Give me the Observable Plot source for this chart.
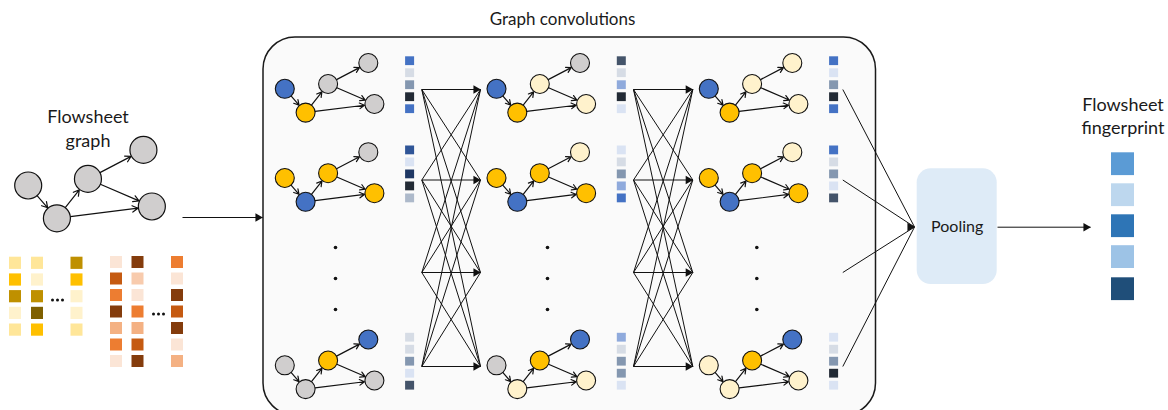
<!DOCTYPE html>
<html><head><meta charset="utf-8">
<script src="https://cdn.jsdelivr.net/npm/d3@7"></script>
<script src="https://cdn.jsdelivr.net/npm/@observablehq/plot@0.6"></script>
<style>body{margin:0;background:#fff;overflow:hidden} svg{display:block}</style>
</head><body><div id="chart"></div>
<script>
// ================= DATA =================
const nodeNames = ["n1", "n2", "n3", "n4", "n5"];
const edgeSources = [0, 1, 2, 2, 1];
const edgeTargets = [1, 2, 3, 4, 4];
const nodePalette = {B: "#4472C4", Y: "#FFC000", G: "#D0CECE", C: "#FFF2CC"};
const inputGraphColors = "GGGGG";
const convLayers = ["layer 1", "layer 2", "layer 3"];
const convRows = ["graph 1", "graph 2", "graph n"];
// node colour code per layer / per graph (order n1..n5)
const convGraphColors = [
  ["BYGGG", "YBYGY", "GGYBG"],
  ["BYCGC", "YBYCY", "GCYBC"],
  ["BYCCC", "YBYCY", "CCYBC"]
];
const convVectorColors = [
  [["#4472C4","#D6DCE5","#8497B0","#222A35","#4472C4"],
   ["#2F5597","#DAE3F3","#1F3864","#222A35","#ADB9CA"],
   ["#D6DCE5","#D6DCE5","#8497B0","#DAE3F3","#44546A"]],
  [["#44546A","#D6DCE5","#8FAADC","#222A35","#DAE3F3"],
   ["#DAE3F3","#D6DCE5","#8497B0","#8FAADC","#4472C4"],
   ["#8FAADC","#D6DCE5","#8497B0","#8497B0","#DAE3F3"]],
  [["#4472C4","#DAE3F3","#8497B0","#222A35","#4472C4"],
   ["#4472C4","#D6DCE5","#8497B0","#DAE3F3","#44546A"],
   ["#DAE3F3","#D6DCE5","#8497B0","#222A35","#DAE3F3"]]
];
const unitFeatureColumns = [
  ["#FFE699","#FFC000","#BF9000","#FFF2CC","#FFE699"],
  ["#FFE699","#FFF2CC","#BF9000","#7F6000","#FFC000"],
  ["#BF9000","#FFC000","#FFF2CC","#FFF2CC","#FFE699"]
];
const streamFeatureColumns = [
  ["#FBE5D6","#C55A11","#ED7D31","#843C0C","#F4B183","#ED7D31","#FBE5D6"],
  ["#843C0C","#F8CBAD","#FBE5D6","#ED7D31","#F4B183","#C55A11","#843C0C"],
  ["#ED7D31","#FBE5D6","#843C0C","#C55A11","#843C0C","#FBE5D6","#F4B183"]
];
const fingerprintColors = ["#5B9BD5", "#BDD7EE", "#2E75B6", "#9DC3E6", "#1F4E79"];
const titleText = "Graph convolutions";
const inputLabel = ["Flowsheet", "graph"];
const poolingLabel = "Pooling";
const outputLabel = ["Flowsheet", "fingerprint"];

// ================= LAYOUT =================
const W = 1168, H = 410;
const tpl = [[0,0],[20.8,23.8],[43.3,-4.8],[83.5,-25.8],[89.6,15.2]];
const rSmall = 9.5, bigScale = 1.38, rBig = 13.5, bigAnchor = [27.7, 185];
const layerX = [284.3, 496, 708.3];
const rowY = [88.3, 177.5, 364.8];
const fcLevels = [89, 179.5, 272, 366];
const poolIn = [914, 226.5];
const font = "Lato, 'Open Sans', sans-serif";

// nodes & edges
const nodes = [], edges = [];
function addGraph(ax, ay, colors, s, r) {
  const pts = tpl.map(([dx, dy]) => [ax + dx * s, ay + dy * s]);
  pts.forEach((p, i) => nodes.push({x: p[0], y: p[1], fill: nodePalette[colors[i]], r, name: nodeNames[i]}));
  edgeSources.forEach((a, k) => {
    const b = edgeTargets[k];
    edges.push({x1: pts[a][0], y1: pts[a][1], x2: pts[b][0], y2: pts[b][1], r});
  });
}
addGraph(bigAnchor[0], bigAnchor[1], inputGraphColors, bigScale, rBig);
convLayers.forEach((L, li) => convRows.forEach((R, ri) => addGraph(layerX[li], rowY[ri], convGraphColors[li][ri], 1, rSmall)));
const smallEdges = edges.filter(e => e.r === rSmall);
const bigEdges = edges.filter(e => e.r === rBig);
const smallNodes = nodes.filter(n => n.r === rSmall);
const bigNodes = nodes.filter(n => n.r === rBig);

// vectors
const cells = [];
convLayers.forEach((L, li) => convRows.forEach((R, ri) => {
  convVectorColors[li][ri].forEach((c, k) => {
    const cx = layerX[li] + 125.3, cy = rowY[ri] - 27.6 + k * 12;
    cells.push({x1: cx - 4.5, x2: cx + 4.5, y1: cy - 4.4, y2: cy + 4.4, fill: c});
  });
}));
// feature matrices
unitFeatureColumns.forEach((col, ci) => col.forEach((c, k) => {
  const cx = [15, 37, 76.5][ci], cy = 262.8 + k * 16.7;
  cells.push({x1: cx - 6, x2: cx + 6, y1: cy - 6.1, y2: cy + 6.1, fill: c});
}));
streamFeatureColumns.forEach((col, ci) => col.forEach((c, k) => {
  const cx = [116, 137.5, 177][ci], cy = 262 + k * 16.5;
  cells.push({x1: cx - 6, x2: cx + 6, y1: cy - 6, y2: cy + 6, fill: c});
}));
fingerprintColors.forEach((c, k) => {
  const cy = [163.7, 194.7, 225.7, 256.6, 288.7][k];
  cells.push({x1: 1111, x2: 1134, y1: cy - 11.4, y2: cy + 11.4, fill: c});
});

// fully-connected links
const links = [], heads = [];
[0, 1].forEach(li => {
  const xs = layerX[li] + 137, xe = layerX[li + 1] - 16;
  fcLevels.forEach(a => fcLevels.forEach(b => links.push({x1: xs, y1: a, x2: xe, y2: b})));
  fcLevels.forEach(b => heads.push({x: xe, y: b}));
});
fcLevels.forEach(a => links.push({x1: layerX[2] + 134, y1: a, x2: poolIn[0], y2: poolIn[1]}));
heads.push({x: poolIn[0], y: poolIn[1]});
links.push({x1: 182, y1: 217, x2: 262, y2: 217}); heads.push({x: 262, y: 217});
links.push({x1: 997, y1: 226.7, x2: 1090, y2: 226.7}); heads.push({x: 1090, y: 226.7});

// dots (ellipses)
const dotsPts = [];
layerX.forEach((ax, li) => [247, 278, 309].forEach(y => dotsPts.push({x: ax + [50.7, 51, 48][li], y})));
const smallDots = [];
[-5, 0, 5].forEach(d => { smallDots.push({x: 57 + d, y: 299.5}); smallDots.push({x: 158 + d, y: 313.5}); });

const texts = [
  {x: 562, y: 19, t: titleText, s: 17},
  {x: 87.5, y: 117, t: inputLabel[0], s: 18},
  {x: 87.5, y: 141, t: inputLabel[1], s: 18},
  {x: 956.7, y: 226.7, t: poolingLabel, s: 16},
  {x: 1122.5, y: 105, t: outputLabel[0], s: 18},
  {x: 1122.5, y: 128, t: outputLabel[1], s: 18}
];

const chart = Plot.plot({
  width: W, height: H, margin: 0,
  x: {domain: [0, W], range: [0, W], axis: null},
  y: {domain: [0, H], range: [0, H], axis: null},
  color: {type: "identity"},
  style: {background: "white", fontFamily: font},
  marks: [
    Plot.rect([{x1: 263, x2: 875.5, y1: 37, y2: 415}], {x1: "x1", x2: "x2", y1: "y1", y2: "y2", rx: 32, fill: "#FAFAFA", stroke: "#1a1a1a", strokeWidth: 1.5}),
    Plot.rect([{x1: 916.7, x2: 996.7, y1: 168.3, y2: 284}], {x1: "x1", x2: "x2", y1: "y1", y2: "y2", rx: 14, fill: "#DEEBF7"}),
    Plot.link(links, {x1: "x1", y1: "y1", x2: "x2", y2: "y2", stroke: "#111", strokeWidth: 1}),
    Plot.dot(heads, {x: d => d.x - 4.6, y: "y", symbol: "triangle", rotate: 90, r: 3.2, fill: "#111", stroke: "none"}),
    Plot.rect(cells, {x1: "x1", x2: "x2", y1: "y1", y2: "y2", fill: "fill"}),
    Plot.arrow(smallEdges, {x1: "x1", y1: "y1", x2: "x2", y2: "y2", insetStart: rSmall, insetEnd: rSmall + 0.5, headLength: 7, stroke: "#111", strokeWidth: 1.2}),
    Plot.arrow(bigEdges, {x1: "x1", y1: "y1", x2: "x2", y2: "y2", insetStart: rBig, insetEnd: rBig + 0.5, headLength: 8, stroke: "#111", strokeWidth: 1.2}),
    Plot.dot(smallNodes, {x: "x", y: "y", r: rSmall, fill: "fill", stroke: "#111", strokeWidth: 1.1}),
    Plot.dot(bigNodes, {x: "x", y: "y", r: rBig, fill: "fill", stroke: "#111", strokeWidth: 1.2}),
    Plot.dot(dotsPts, {x: "x", y: "y", r: 1.8, fill: "#111"}),
    Plot.dot(smallDots, {x: "x", y: "y", r: 1.5, fill: "#111"}),
    Plot.text(texts, {x: "x", y: "y", text: "t", fontSize: "s", fill: "#1a1a1a", textAnchor: "middle", lineAnchor: "middle"})
  ]
});
document.getElementById("chart").appendChild(chart);
</script>
</body></html>
